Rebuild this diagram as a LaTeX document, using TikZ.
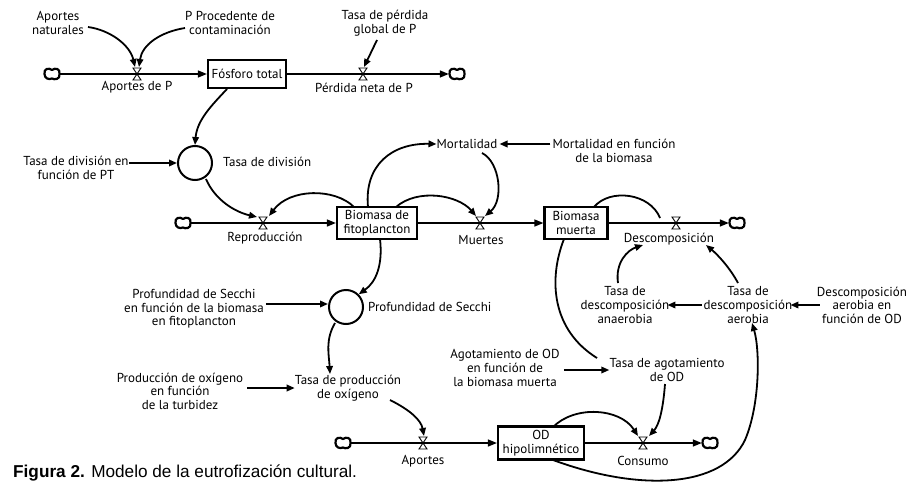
\documentclass[tikz,border=0pt]{standalone}
\usepackage{fontspec}
\setmainfont{PT Sans}
\newfontfamily\capfont{Liberation Sans}
\usetikzlibrary{arrows.meta}
\tikzset{
  lbl/.style={align=center, inner sep=0pt},
  stock/.style={draw, line width=2.2pt, align=center, inner sep=2pt},
  aux/.style={circle, draw, line width=2pt, minimum size=34pt, inner sep=0pt},
  conn/.style={line width=1.8pt, -{Triangle[length=8pt,width=6.5pt]}},
  plain/.style={line width=1.8pt},
  flow/.style={line width=1.4pt, -{Triangle[length=9pt,width=7pt]}},
  src/.style={minimum width=16pt, minimum height=10pt, inner sep=0pt},
  cloudpic/.pic={\draw[line width=2.2pt, line join=round]
     (-7.5,0) .. controls (-8.5,-5.5) and (-3,-6.5) .. (0,-4)
            .. controls (3,-6.5) and (8.5,-5.5) .. (7.5,0)
            .. controls (8.5,5.5) and (2,6) .. (0,4.5)
            .. controls (-3,6) and (-7.5,4.5) .. (-7.5,0) -- cycle;},
  valvepic/.pic={\draw[line width=0.9pt] (-4,-6) -- (4,-6) -- (-4,6) -- (4,6) -- cycle;},
}
\begin{document}
\begin{tikzpicture}[x=1pt, y=-1pt, font=\fontsize{13}{13.6}\selectfont]
\useasboundingbox (0,0) rectangle (909,484);

% ---------------- top row ----------------
\node[lbl] (an) at (58,23) {Aportes\\naturales};
\node[lbl] (pc) at (230,23) {P Procedente de\\contaminación};
\node[lbl] (tp) at (385,23) {Tasa de pérdida\\global de P};
\node[stock, minimum width=78pt, minimum height=28pt] (FT) at (247,74) {Fósforo total};
\node[src] (cl1) at (52,74) {}; \pic at (cl1) {cloudpic};
\node[src] (cl2) at (457,74) {}; \pic at (cl2) {cloudpic};
\coordinate (v1) at (137,74);
\coordinate (v2) at (363,74);
\draw[flow] (cl1.east) -- (FT.west);
\draw[flow] (FT.east) -- (cl2.west);
\pic at (v1) {valvepic};
\pic at (v2) {valvepic};
\node[lbl] (lv1) at (137,87) {Aportes de P};
\node[lbl] (lv2) at (364,88) {Pérdida neta de P};
\coordinate (v1t) at (135,67);
\coordinate (v1u) at (139,67);
\coordinate (v2t) at (364,67);
\coordinate (ans) at (88,27);
\coordinate (pcs) at (185,28);
\coordinate (tps) at (377,40);
\draw[conn] (ans) .. controls (110,30) and (130,45) .. (v1t);
\draw[conn] (pcs) .. controls (160,32) and (142,45) .. (v1u);
\draw[conn] (tps) -- (v2t);

% ---------------- tasa de division ----------------
\node[aux] (TD) at (195,163) {};
\node[lbl, anchor=west] (lTD) at (223,162) {Tasa de división};
\node[lbl] (tdf) at (76,168) {Tasa de división en\\función de PT};
\coordinate (fts) at (227,89);
\draw[conn] (fts) .. controls (212,105) and (197,120) .. (TD.north);
\draw[conn] (tdf.east |- TD.west) -- (TD.west);

% ---------------- middle row ----------------
\node[src] (cl3) at (183,223) {}; \pic at (cl3) {cloudpic};
\coordinate (v3) at (263,223);
\node[stock, minimum width=80pt, minimum height=32pt] (BF) at (377,223) {Biomasa de\\fitoplancton};
\coordinate (v4) at (480,223);
\node[stock, minimum width=63pt, minimum height=32pt] (BM) at (576,223) {Biomasa\\muerta};
\coordinate (v5) at (676,223);
\node[src] (cl4) at (737,223) {}; \pic at (cl4) {cloudpic};
\draw[flow] (cl3.east) -- (BF.west);
\draw[flow] (BF.east) -- (BM.west);
\draw[flow] (BM.east) -- (cl4.west);
\pic at (v3) {valvepic};
\pic at (v4) {valvepic};
\pic at (v5) {valvepic};
\node[lbl] (lv3) at (265,238) {Reproducción};
\node[lbl] (lv4) at (481,240) {Muertes};
\node[lbl] (lv5) at (669,239) {Descomposición};

\coordinate (tds) at (206,179);
\coordinate (v3a) at (257,217);
\coordinate (v3b) at (269,216);
\coordinate (bfa) at (354,207);
\draw[conn] (tds) .. controls (215,200) and (235,212) .. (v3a);
\draw[conn] (bfa) .. controls (335,188) and (290,188) .. (v3b);

\node[lbl] (MO) at (467,144) {Mortalidad};
\node[lbl] (MOF) at (614,151) {Mortalidad en función\\de la biomasa};
\coordinate (bfb) at (368,207);
\coordinate (bfc) at (396,207);
\coordinate (v4a) at (476,216);
\coordinate (v4b) at (485,216);
\coordinate (mos) at (482,153);
\draw[conn] (bfb) .. controls (364,165) and (392,143) .. (MO.west);
\draw[conn] (MOF.west |- MO.east) ++(-2,0) -- ([xshift=2pt]MO.east);
\draw[conn] (bfc) .. controls (418,188) and (458,195) .. (v4a);
\draw[conn] (mos) .. controls (500,162) and (504,200) .. (v4b);
\coordinate (bma) at (594,207);
\coordinate (v5a) at (660,218);
\draw[plain] (bma) .. controls (610,188) and (650,193) .. (v5a);

% descomposicion
\node[lbl] (TA) at (625,305) {Tasa de\\descomposición\\anaerobia};
\node[lbl] (TAe) at (748,305) {Tasa de\\descomposición\\aerobia};
\node[lbl] (DF) at (862,305) {Descomposición\\aerobia en\\función de OD};
\coordinate (tas) at (618,283);
\coordinate (tae) at (738,283);
\coordinate (v5b) at (643,245);
\coordinate (v5c) at (706,245);
\draw[conn] (tas) .. controls (615,262) and (628,250) .. (v5b);
\draw[conn] (tae) .. controls (730,268) and (718,255) .. (v5c);
\draw[conn] ([xshift=3pt]DF.west) -- ([xshift=-2pt]TAe.east);
\draw[conn] ([xshift=-2pt]TAe.west) -- ([xshift=-2pt]TA.east);

% agotamiento
\node[lbl] (TAg) at (667,370) {Tasa de agotamiento\\de OD};
\node[lbl] (AgF) at (505,368) {Agotamiento de OD\\en función de\\la biomasa muerta};
\coordinate (bmb) at (564,239);
\coordinate (tgw) at (597,358);
\draw[plain] (bmb) .. controls (548,280) and (552,330) .. (tgw);
\draw[conn] ([xshift=4pt]AgF.east |- TAg.west) -- (TAg.west);

% ---------------- profundidad ----------------
\node[aux] (PS) at (346,307) {};
\node[lbl, anchor=west] (lPS) at (368,307) {Profundidad de Secchi};
\node[lbl] (PSF) at (194,309) {Profundidad de Secchi\\en función de la biomasa\\en fitoplancton};
\coordinate (psy) at (0,304);
\draw[conn] ([xshift=2pt]PSF.east |- psy) -- (PS.west |- psy);
\coordinate (bfd) at (380,239);
\draw[conn] (bfd) .. controls (383,265) and (376,282) .. (PS.north east);
\node[lbl] (TPO) at (348,388) {Tasa de producción\\de oxígeno};
\node[lbl] (PF) at (180,391) {Producción de oxígeno\\en función\\de la turbidez};
\coordinate (pss) at (335,323);
\coordinate (tpt) at (330,374);
\draw[conn] (pss) .. controls (325,340) and (329,355) .. (tpt);
\draw[conn] ([xshift=4pt]PF.east |- TPO.west) -- (TPO.west);

% ---------------- bottom row ----------------
\node[src] (cl5) at (343,443) {}; \pic at (cl5) {cloudpic};
\coordinate (v6) at (423,443);
\node[stock, minimum width=86pt, minimum height=33pt] (OD) at (541,443) {OD\\hipolimnético};
\coordinate (v7) at (643,443);
\node[src] (cl6) at (710,443) {}; \pic at (cl6) {cloudpic};
\draw[flow] (cl5.east) -- (OD.west);
\draw[flow] (OD.east) -- (cl6.west);
\pic at (v6) {valvepic};
\pic at (v7) {valvepic};
\node[lbl] (lv6) at (423,461) {Aportes};
\node[lbl] (lv7) at (643,461) {Consumo};

\coordinate (tps2) at (390,400);
\coordinate (v6a) at (424,436);
\coordinate (oda) at (553,427);
\coordinate (odb) at (553,460);
\coordinate (v7a) at (638,436);
\coordinate (v7b) at (649,436);
\coordinate (tgs) at (665,384);
\coordinate (taeb) at (752,323);
\draw[conn] (tps2) .. controls (410,410) and (421,420) .. (v6a);
\draw[conn] (oda) .. controls (575,405) and (620,408) .. (v7a);
\draw[conn] (tgs) .. controls (663,410) and (659,425) .. (v7b);
\draw[conn] (odb) .. controls (640,492) and (722,488) .. (745,440)
   .. controls (760,405) and (760,350) .. (taeb);

% caption
\node[anchor=west, inner sep=0pt, font=\capfont\fontsize{17.2}{19}\selectfont] (cap) at (13,473)
  {\textbf{Figura 2.} Modelo de la eutrofización cultural.};
\end{tikzpicture}
\end{document}
